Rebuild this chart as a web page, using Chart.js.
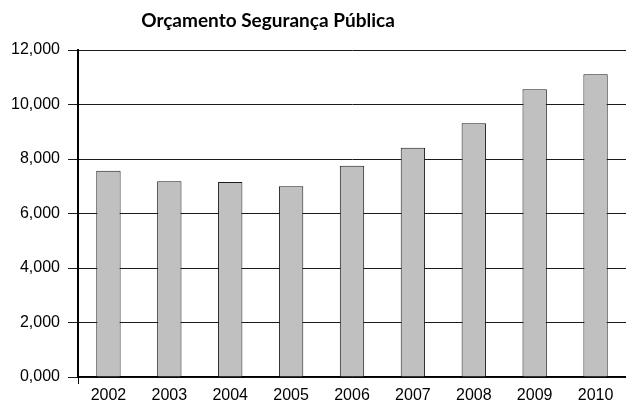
<!DOCTYPE html>
<html>
<head>
<meta charset="utf-8">
<script src="https://cdn.jsdelivr.net/npm/chart.js@4.4.1/dist/chart.umd.min.js"></script>
<style>
  html, body { margin: 0; padding: 0; background: #fff; }
  #wrap { position: relative; width: 626px; height: 407px; }
  #title {
    position: absolute; top: 8px; left: 268px; transform: translateX(-50%);
    font: bold 19px Lato, 'Open Sans', sans-serif; color: #000; white-space: nowrap;
  }
</style>
</head>
<body>
<div id="wrap">
  <div id="title">Orçamento Segurança Pública</div>
  <canvas id="budget-chart" width="626" height="407"></canvas>
</div>
<script>
const years = ['2002', '2003', '2004', '2005', '2006', '2007', '2008', '2009', '2010'];
const budget = [7570, 7180, 7160, 7000, 7750, 8410, 9310, 10560, 11110];
const yTicks = [0, 2000, 4000, 6000, 8000, 10000, 12000];

const axisFont = { family: "'Liberation Sans', Arial, sans-serif", size: 16 };

new Chart(document.getElementById('budget-chart'), {
    type: 'bar',
    data: {
        labels: years,
        datasets: [
            {
                data: budget,
                backgroundColor: '#c0c0c0',
                borderColor: '#1a1a1a',
                borderWidth: 1,
                barPercentage: 0.4,
                categoryPercentage: 1,
            },
        ],
    },
    options: {
        responsive: false,
        animation: false,
        layout: { padding: { top: 50, left: 0, right: 0, bottom: 0 } },
        plugins: {
            legend: { display: false },
            tooltip: { enabled: false },
        },
        scales: {
            x: {
                grid: {
                    offset: true,
                    drawOnChartArea: false,
                    tickLength: 7,
                    color: (ctx) => (ctx.index === 0 ? '#000' : 'rgba(0,0,0,0)'),
                },
                border: { color: '#000', width: 1.5 },
                ticks: { font: axisFont, color: '#000', padding: 2 },
                afterFit: (scale) => { scale.height = 30; },
            },
            y: {
                min: 0,
                max: 12000,
                afterBuildTicks: (scale) => { scale.ticks = yTicks.map((v) => ({ value: v })); },
                grid: { color: '#1a1a1a', tickLength: 10 },
                border: { color: '#000', width: 2 },
                ticks: {
                    font: axisFont,
                    color: '#000',
                    padding: 8,
                    callback: (v) => `${v / 1000},000`,
                },
                afterFit: (scale) => { scale.width = 78; },
            },
        },
    },
});
</script>
</body>
</html>
